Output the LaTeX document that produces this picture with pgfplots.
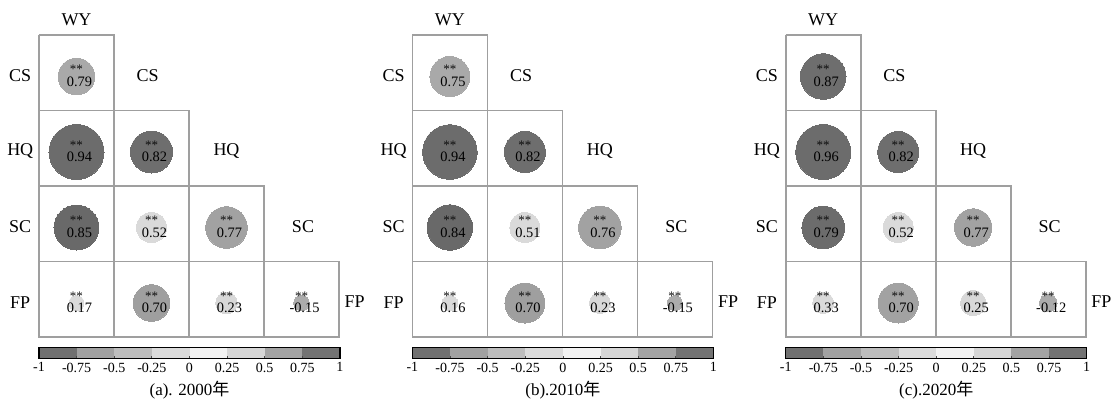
\documentclass[border=0pt]{standalone}
\usepackage{pgfplots}
\usepackage{pgfplotstable}
\pgfplotsset{compat=1.18}
\usepackage{fontspec}
\setmainfont{Liberation Serif}
\newfontfamily\cjk{Noto Sans CJK SC}

% c = column (WY,CS,HQ,SC), r = row (CS,HQ,SC,FP), ms = circle radius (pt), g = grey level
\pgfplotstableread{
c r ms g lab
1 1 9.15 0.66 0.79
1 2 13.75 0.42 0.94
2 2 10.5 0.43 0.82
1 3 11.25 0.41 0.85
2 3 7.5 0.85 0.52
3 3 10.4 0.63 0.77
1 4 3.75 0.85 0.17
2 4 9.15 0.62 0.70
3 4 5.4 0.84 0.23
4 4 3.9 0.67 -0.15
}\dataA
\pgfplotstableread{
c r ms g lab
1 1 10.0 0.66 0.75
1 2 13.65 0.42 0.94
2 2 10.25 0.43 0.82
1 3 11.35 0.41 0.84
2 3 7.5 0.85 0.51
3 3 10.65 0.63 0.76
1 4 3.9 0.85 0.16
2 4 10.0 0.62 0.70
3 4 5.25 0.84 0.23
4 4 3.75 0.67 -0.15
}\dataB
\pgfplotstableread{
c r ms g lab
1 1 11.4 0.43 0.87
1 2 13.75 0.42 0.96
2 2 10.25 0.43 0.82
1 3 10.65 0.42 0.79
2 3 7.5 0.85 0.52
3 3 9.35 0.63 0.77
1 4 5.25 0.85 0.33
2 4 10.0 0.63 0.70
3 4 6.35 0.84 0.25
4 4 4.4 0.67 -0.12
}\dataC

\definecolor{cbA}{gray}{0.44}
\definecolor{cbB}{gray}{0.63}
\definecolor{cbC}{gray}{0.74}
\definecolor{cbD}{gray}{0.86}
\definecolor{cbE}{gray}{0.95}
\definecolor{cbF}{gray}{0.84}
\definecolor{cbG}{gray}{0.64}
\definecolor{cbH}{gray}{0.45}

\newcommand\panel[3]{%
\begin{axis}[at={(#1,-17.5pt)}, anchor=north west, scale only axis,
  width=150pt, height=151pt,
  xmin=0.5, xmax=4.5, ymin=0.5, ymax=4.5, y dir=reverse,
  hide axis, clip=false,
  colormap={bw}{gray(0cm)=(0); gray(1cm)=(1)},
  point meta min=0, point meta max=1]
\addplot[draw=gray!75, line width=0.8pt, unbounded coords=jump, mark=none] coordinates {
 (0.5,0.5) (1.5,0.5) (1.5,1.5) (2.5,1.5) (2.5,2.5) (3.5,2.5) (3.5,3.5) (4.5,3.5) (4.5,4.5) (0.5,4.5) (0.5,0.5)
 (nan,nan) (0.5,1.5) (1.5,1.5)
 (nan,nan) (0.5,2.5) (2.5,2.5)
 (nan,nan) (0.5,3.5) (3.5,3.5)
 (nan,nan) (1.5,1.5) (1.5,4.5)
 (nan,nan) (2.5,2.5) (2.5,4.5)
 (nan,nan) (3.5,3.5) (3.5,4.5)
};
\addplot[scatter, only marks, mark=*, point meta=\thisrow{g},
  mark options={draw=none},
  scatter/use mapped color={draw=mapped color, fill=mapped color, line width=0pt},
  visualization depends on={\thisrow{ms}\as\perpointsize},
  scatter/@pre marker code/.append style={/tikz/mark size=\perpointsize}]
  table[x=c, y expr=\thisrow{r}+0.05] {#2};
\addplot[only marks, mark=none, point meta=explicit symbolic,
  nodes near coords={{\fontsize{6.5}{6.5}\selectfont\color{black!95}**}\\[-1.1pt]\hspace*{3pt}\pgfplotspointmeta},
  every node near coord/.append style={align=center, anchor=center, inner sep=0pt,
     font=\fontsize{7.2}{7.2}\selectfont}]
  table[x=c, y expr=\thisrow{r}+0.04, meta=lab] {#2};
\begin{scope}[every node/.style={font=\fontsize{9}{9}\selectfont, inner sep=0pt}]
\node at (axis cs:1,0.295) {WY};
\node at (axis cs:0.25,1.04) {CS};
\node at (axis cs:0.25,2.04) {HQ};
\node at (axis cs:0.25,3.04) {SC};
\node at (axis cs:0.25,4.04) {FP};
\node at (axis cs:1.95,1.04) {CS};
\node at (axis cs:3.0,2.04) {HQ};
\node at (axis cs:4.02,3.04) {SC};
\node at (axis cs:4.71,4.03) {FP};
\end{scope}
\end{axis}
\begin{axis}[at={(#1,-173.85pt)}, anchor=north west, scale only axis,
  width=150.5pt, height=5.3pt,
  xmin=-1, xmax=1, ymin=0, ymax=1,
  ytick=\empty,
  xtick={-1,-0.75,-0.5,-0.25,0,0.25,0.5,0.75,1},
  xticklabels={-1,-0.75,-0.5,-0.25,0,0.25,0.5,0.75,1},
  xtick pos=bottom, tick align=inside, major tick length=1.2pt,
  tick style={black!70, line width=0.4pt},
  axis line style={black, line width=0.7pt},
  xticklabel style={inner sep=0pt, yshift=-2pt, font=\fontsize{7}{7}\selectfont},
  axis on top, clip=false]
\addplot[fill=cbA, draw=none] coordinates {(-1,0) (-0.75,0) (-0.75,1) (-1,1)} -- cycle;
\addplot[fill=cbB, draw=none] coordinates {(-0.75,0) (-0.5,0) (-0.5,1) (-0.75,1)} -- cycle;
\addplot[fill=cbC, draw=none] coordinates {(-0.5,0) (-0.25,0) (-0.25,1) (-0.5,1)} -- cycle;
\addplot[fill=cbD, draw=none] coordinates {(-0.25,0) (0,0) (0,1) (-0.25,1)} -- cycle;
\addplot[fill=cbE, draw=none] coordinates {(0,0) (0.25,0) (0.25,1) (0,1)} -- cycle;
\addplot[fill=cbF, draw=none] coordinates {(0.25,0) (0.5,0) (0.5,1) (0.25,1)} -- cycle;
\addplot[fill=cbG, draw=none] coordinates {(0.5,0) (0.75,0) (0.75,1) (0.5,1)} -- cycle;
\addplot[fill=cbH, draw=none] coordinates {(0.75,0) (1,0) (1,1) (0.75,1)} -- cycle;
\node[font=\fontsize{8.5}{8.5}\selectfont, inner sep=0pt] at (axis cs:0,-3.0) {#3};
\end{axis}
}

\begin{document}
\begin{tikzpicture}
\path[use as bounding box] (0,0) rectangle (557.5pt,-199.5pt);
\panel{19.5pt}{\dataA}{(a). 2000{\cjk 年}}
\panel{206.2pt}{\dataB}{(b).2010{\cjk 年}}
\panel{392.85pt}{\dataC}{(c).2020{\cjk 年}}
\end{tikzpicture}
\end{document}
